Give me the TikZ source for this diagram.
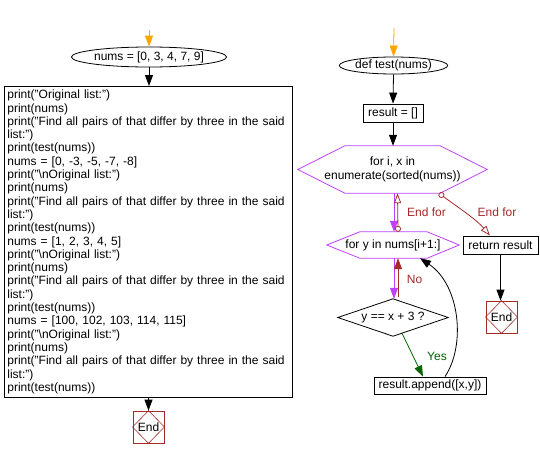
\documentclass[tikz,border=0pt]{standalone}
\usepackage{fontspec}
\setmainfont{Liberation Sans}
\usetikzlibrary{arrows.meta,shapes.geometric}
\definecolor{orng}{HTML}{FFA500}
\definecolor{purp}{HTML}{BF40FF}
\definecolor{dred}{HTML}{A52A2A}
\definecolor{dgrn}{HTML}{006400}
\begin{document}
\begin{tikzpicture}[x=1pt,y=-1pt,
  font=\fontsize{12}{13.3}\selectfont,
  lw/.style={line width=0.8pt},
  tip/.style={-{Triangle[width=8pt,length=11pt]}},
  blk/.style={lw,tip},
  orA/.style={orng,lw,tip},
  purA/.style={purp,lw,tip},
  redA/.style={dred,lw,tip},
  grnA/.style={dgrn,lw,tip},
  endfor/.style={dred,lw,{Circle[open,length=6pt]}-{Triangle[open,width=7pt,length=10pt]}},
  oval/.style={ellipse,draw,lw,inner sep=0},
  rbox/.style={draw,lw,inner sep=0},
  endbox/.style={draw=dred,lw,minimum width=31pt,minimum height=32pt,inner sep=0},
  lbl/.style={inner sep=0}
]
\useasboundingbox (0,0) rectangle (540,458);

% ---------- left column ----------
\coordinate (s1) at (149,30);
\node[oval,minimum width=127pt,minimum height=20pt] (e1) at (149,57) {nums = [0, 3, 4, 7, 9]};
\node[rbox,anchor=north west,text width=282pt,inner xsep=3pt,minimum height=311pt,align=left] (code) at (4,86) {%
print("Original list:")\\
print(nums)\\
print("Find all pairs of that differ by three in the said\\
list:")\\
print(test(nums))\\
nums = [0, -3, -5, -7, -8]\\
print("\textbackslash nOriginal list:")\\
print(nums)\\
print("Find all pairs of that differ by three in the said\\
list:")\\
print(test(nums))\\
nums = [1, 2, 3, 4, 5]\\
print("\textbackslash nOriginal list:")\\
print(nums)\\
print("Find all pairs of that differ by three in the said\\
list:")\\
print(test(nums))\\
nums = [100, 102, 103, 114, 115]\\
print("\textbackslash nOriginal list:")\\
print(nums)\\
print("Find all pairs of that differ by three in the said\\
list:")\\
print(test(nums))};
\node[endbox] (end1) at (148.5,427) {End};
\draw[dred,line width=0.6pt] (end1.north)--(end1.east)--(end1.south)--(end1.west)--cycle;

\draw[orA] (s1) -- (e1.north);
\draw[blk] (e1.south) -- (e1.south |- code.north);
\draw[blk] (end1.north |- code.south) -- (end1.north);

% ---------- right column ----------
\coordinate (s2) at (394,28);
\node[oval,minimum width=97pt,minimum height=17pt] (e2) at (393.5,65.5) {def test(nums)};
\node[rbox,minimum width=60pt,minimum height=18pt] (r1) at (393,113) {result = []};
\node[lbl,minimum width=189pt,minimum height=47pt,align=center] (h1) at (392.5,169.5) {for i, x in\\enumerate(sorted(nums))};
\draw[purp,lw] (h1.west) -- ([xshift=47pt]h1.north west) -- ([xshift=-47pt]h1.north east) -- (h1.east) -- ([xshift=-47pt]h1.south east) -- ([xshift=47pt]h1.south west) -- cycle;
\node[lbl,minimum width=132pt,minimum height=26pt] (h2) at (393,245) {for y in nums[i+1:]};
\draw[purp,lw] (h2.west) -- ([xshift=33pt]h2.north west) -- ([xshift=-32pt]h2.north east) -- (h2.east) -- ([xshift=-32pt]h2.south east) -- ([xshift=33pt]h2.south west) -- cycle;
\node[lbl,minimum width=110pt,minimum height=37pt] (d) at (393,317.5) {y == x + 3 ?};
\draw[lw] (d.west) -- (d.north) -- (d.east) -- (d.south) -- cycle;
\node[rbox,minimum width=112pt,minimum height=17pt] (app) at (430,385.5) {result.append([x,y])};
\node[rbox,minimum width=75pt,minimum height=18pt] (ret) at (500.5,245) {return result};
\node[endbox] (end2) at (501.5,317) {End};
\draw[dred,line width=0.6pt] (end2.north)--(end2.east)--(end2.south)--(end2.west)--cycle;

\draw[orA] (s2) -- (e2.north);
\draw[blk] (e2.south) -- (r1.north);
\draw[blk] (r1.south) -- (r1.south |- h1.north);
\draw[purA] ([xshift=1.5pt]h1.south) -- ([xshift=1.5pt]h1.south |- h2.north);
\draw[endfor] ([xshift=5pt]h2.north) -- ([xshift=5pt]h1.south);
\node[lbl,dred,anchor=west] (lef1) at (407,212) {End for};
\draw[endfor] ([xshift=46.5pt]h1.south) .. controls (456,206) and (476,219) .. ([xshift=-10.5pt]ret.north);
\node[lbl,dred] (lef2) at (497,212) {End for};
\draw[blk] (ret.south) -- (ret.south |- end2.north);
\draw[purA] ([xshift=1pt]h2.south) -- ([xshift=1pt]d.north);
\draw[redA] ([xshift=5pt]d.north) ++(0,-2) -- ([xshift=5pt]h2.south);
\node[lbl,dred] (lno) at (414.5,279) {No};
\draw[grnA] ([xshift=9pt,yshift=3pt]d.south) -- ([xshift=-7pt]app.north);
\node[lbl,dgrn] (lyes) at (437,356) {Yes};
\draw[blk] ([xshift=15pt]app.north) .. controls (466,345) and (460,285) .. ([xshift=27pt]h2.south);
\end{tikzpicture}
\end{document}
